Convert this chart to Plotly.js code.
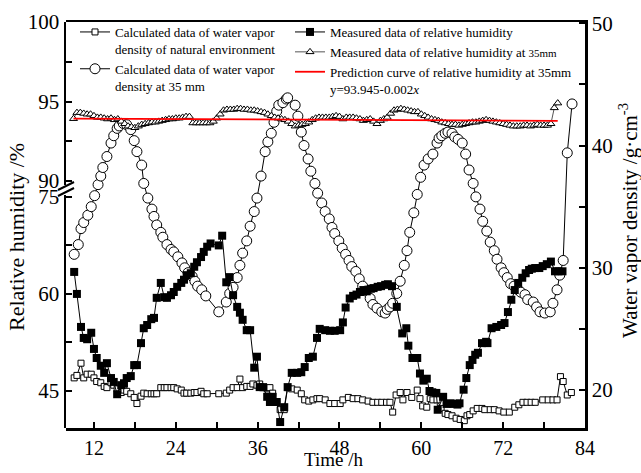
<!DOCTYPE html>
<html><head><meta charset="utf-8">
<script src="https://cdn.plot.ly/plotly-3.0.1.min.js"></script>
<style>html,body{margin:0;padding:0;background:#fff}#chart{width:641px;height:473px}</style>
</head><body><div id="chart"></div>
<script>
// Calculated water vapor density of natural environment (g/cm3)
var tNat=[9.1,9.5,10.1,10.5,11.0,11.6,12.0,12.4,13.0,13.5,13.9,14.5,14.9,15.4,16.0,16.4,16.8,17.4,17.9,18.3,18.9,19.3,19.8,20.4,20.8,21.2,21.8,22.3,22.7,23.3,23.7,24.2,24.8,25.2,25.6,26.2,26.7,27.1,27.7,28.1,28.6,30.3,31.4,31.9,32.4,33.0,33.4,33.8,34.4,34.9,35.3,35.9,36.3,36.8,37.4,37.8,38.2,38.8,39.3,39.9,40.4,41.0,41.8,42.4,42.9,43.5,44.1,44.7,45.1,45.9,46.6,47.3,48.1,48.5,49.3,50.0,50.7,51.4,52.2,52.9,53.6,54.2,54.9,55.4,55.8,56.3,56.9,57.3,57.9,58.6,59.4,59.8,60.2,60.8,61.3,61.7,62.3,62.9,63.5,63.9,64.5,65.1,65.7,66.3,66.7,67.1,67.6,68.2,68.9,69.3,70.1,70.7,71.4,72.1,72.9,73.7,74.3,74.9,75.5,76.1,76.7,77.8,78.6,79.3,79.9,80.4,80.8,81.4,82.0];
var vNat=[21.0,21.2,22.2,21.0,21.3,21.3,21.0,20.7,20.6,20.3,20.2,20.6,20.4,20.1,19.8,20.0,19.9,19.7,19.4,18.9,19.5,19.75,19.7,19.7,19.7,19.7,20.2,20.2,20.2,20.2,20.2,20.1,20.0,19.75,19.75,19.75,19.8,19.8,19.9,19.7,19.7,19.7,19.75,20.0,20.2,20.2,20.9,20.2,20.3,20.3,20.5,20.4,20.5,20.2,20.1,20.2,19.75,19.0,18.4,18.4,20.2,20.1,20.0,19.7,19.2,19.1,19.2,19.3,19.3,19.2,18.9,18.9,18.9,19.2,19.4,19.3,19.3,19.2,19.1,19.0,19.0,19.0,19.0,19.0,18.2,19.6,19.8,19.2,19.8,19.4,20.0,19.3,18.7,18.6,19.3,19.2,19.2,18.5,18.1,18.0,17.9,17.7,17.6,17.5,17.9,18.0,18.3,18.5,18.5,18.4,18.4,18.4,18.3,18.2,18.2,18.6,18.8,19.0,19.0,19.0,19.0,19.2,19.2,19.2,19.2,21.1,20.7,19.6,19.8];

// Calculated water vapor density at 35 mm (g/cm3)
var t35=[9.1,9.7,10.1,10.5,11.1,11.6,12.1,12.6,13.0,13.3,13.9,14.5,14.9,15.4,15.7,16.3,16.8,17.4,17.9,18.3,19.0,19.3,19.9,20.5,20.8,21.2,21.8,22.1,22.7,23.3,23.7,24.3,24.9,25.3,25.8,26.4,26.8,27.2,27.8,28.4,30.3,31.4,31.9,32.4,33.0,33.4,33.8,34.4,34.9,35.5,35.9,36.5,37.1,37.5,38.0,38.4,38.8,39.1,39.7,40.2,40.4,41.5,41.9,42.4,42.8,43.4,43.8,44.4,44.8,45.4,45.9,46.5,46.9,47.3,47.9,48.4,48.9,49.4,49.8,50.4,50.9,51.4,51.9,52.5,52.9,53.5,54.2,54.7,55.0,55.4,55.8,56.4,56.9,57.5,57.9,58.3,58.9,59.4,59.9,60.4,61.0,61.7,62.3,62.6,63.0,63.5,63.9,64.5,64.9,65.4,66.0,66.5,67.0,67.6,68.0,68.6,69.0,69.6,70.1,70.7,71.1,71.7,72.1,72.6,73.1,73.6,74.2,74.6,75.2,75.6,76.4,76.9,77.4,78.1,78.9,79.3,79.9,80.3,80.8,81.4,82.1];
var v35=[31.1,31.9,33.2,33.7,34.3,35.0,35.9,36.8,37.5,38.2,39.1,40.2,40.8,41.4,41.6,41.8,41.7,41.3,40.4,39.5,38.4,36.9,35.7,34.8,34.2,33.5,32.9,32.5,31.9,31.5,31.3,30.9,30.4,30.0,29.6,29.3,28.9,28.5,28.2,27.7,26.4,27.2,27.9,28.4,29.2,30.2,31.2,32.2,33.4,34.6,35.7,37.5,39.5,40.3,41.0,41.9,42.8,43.3,43.5,43.8,43.9,43.3,42.4,41.1,40.0,38.9,37.9,36.9,36.1,35.3,34.6,34.0,33.3,32.8,32.2,31.6,31.1,30.6,30.1,29.7,29.1,28.5,28.1,27.5,27.0,26.7,26.4,26.3,26.6,26.8,27.1,27.9,28.9,30.2,31.4,32.9,34.5,36.0,37.4,38.4,38.9,39.3,40.2,40.6,40.8,41.0,41.1,41.0,40.7,40.5,40.2,39.3,38.0,36.9,35.8,34.8,33.8,33.0,32.1,31.4,30.7,30.0,29.6,29.2,28.7,28.5,28.2,28.0,27.8,27.4,27.2,26.8,26.4,26.3,26.4,27.1,28.2,29.4,30.6,39.4,43.4];

// Measured relative humidity (%)
var tRH=[9.1,9.5,10.1,10.5,11.0,11.6,12.0,12.4,13.0,13.5,13.9,14.5,14.9,15.4,16.0,16.4,16.8,17.4,17.9,18.3,18.9,19.3,19.8,20.4,20.8,21.2,21.8,22.3,22.7,23.3,23.7,24.2,24.8,25.2,25.6,26.2,26.7,27.1,27.7,28.1,28.6,29.1,30.3,30.8,31.4,31.9,32.4,33.0,33.4,33.8,34.4,34.9,35.5,35.9,36.3,36.8,37.4,37.8,38.2,38.8,39.3,39.9,40.4,41.0,41.8,42.4,42.9,43.5,44.1,44.7,45.1,45.9,46.6,47.3,48.1,48.5,48.9,49.5,50.0,50.5,51.0,51.5,52.0,52.6,53.0,53.6,54.1,54.7,55.1,55.7,56.4,57.2,57.8,58.1,58.7,59.4,59.8,60.3,60.8,61.2,61.6,62.2,62.4,63.2,63.7,64.3,64.7,65.3,65.6,66.2,66.6,67.1,67.5,67.9,68.3,68.9,69.5,69.7,70.3,71.0,71.7,72.2,72.7,73.2,73.7,74.2,74.8,75.3,75.8,76.2,76.7,77.3,77.8,78.4,79.0,79.6,80.1,80.7];
var vRH=[63.4,60.0,54.9,53.2,53.0,54.0,51.5,50.1,48.9,47.8,49.3,47.0,46.4,44.5,45.9,46.2,47.0,47.3,49.0,49.0,52.4,54.7,55.2,56.1,56.3,59.4,61.7,59.5,59.4,59.8,60.3,61.1,61.7,62.2,62.9,63.2,64.2,64.9,65.7,66.5,67.3,67.8,67.5,69.0,61.8,62.6,59.8,58.0,57.1,56.0,54.4,54.4,48.6,50.3,45.6,45.6,44.1,43.3,44.1,43.3,40.2,42.5,45.6,47.8,47.8,47.9,48.7,50.1,50.3,53.2,54.6,54.4,54.3,54.3,54.4,55.6,57.9,59.3,59.7,59.9,60.3,60.6,60.4,60.8,60.9,61.1,61.2,61.4,61.5,61.2,58.0,53.9,54.7,52.0,50.1,50.1,47.7,46.6,46.9,45.0,44.8,44.7,42.1,44.1,43.0,43.1,43.0,42.9,43.1,45.2,47.0,49.0,49.8,50.6,50.9,52.4,52.6,52.4,54.7,54.9,55.2,55.5,57.2,59.1,60.6,61.7,62.5,63.2,63.7,63.9,64.0,64.0,64.3,64.6,65.0,63.5,63.5,63.5];

// Measured relative humidity at 35 mm (%)
var tRH35=[9,9.5,10,10.5,11,11.5,12,12.5,13,13.5,14,14.5,15,15.5,16,16.5,17,17.5,18,18.5,19,19.5,20,20.5,21,21.5,22,22.5,23,23.5,24,24.5,25,25.5,26,26.5,27,27.5,28,28.5,29,29.5,30,30.5,31,31.5,32,32.5,33,33.5,34,34.5,35,35.5,36,36.5,37,37.5,38,38.5,39,39.5,40,40.5,41,41.5,42,42.5,43,43.5,44,44.5,45,45.5,46,46.5,47,47.5,48,48.5,49,49.5,50,50.5,51,51.5,52,52.5,53,53.5,54,54.5,55,55.5,56,56.5,57,57.5,58,58.5,59,59.5,60,60.5,61,61.5,62,62.5,63,63.5,64,64.5,65,65.5,66,66.5,67,67.5,68,68.5,69,69.5,70,70.5,71,71.5,72,72.5,73,73.5,74,74.5,75,75.5,76,76.5,77,77.5,78,78.5,79,79.5,80];
var vRH35=[93.92,94.3,94.3,94.25,94.2,94.2,94.1,94.0,94.0,93.95,93.9,93.95,93.85,93.9,93.75,93.6,93.45,93.4,93.35,93.45,93.55,93.6,93.65,93.7,93.7,93.75,93.8,93.85,93.9,93.9,93.95,93.95,94.0,94.05,94.05,93.65,93.65,93.65,93.65,93.65,93.65,93.75,93.95,94.2,94.45,94.5,94.5,94.5,94.55,94.55,94.5,94.5,94.45,94.45,94.4,94.35,94.3,94.2,94.1,94.0,93.95,93.9,93.85,93.75,93.6,93.45,93.5,93.55,93.6,93.7,93.85,93.95,94.0,94.0,94.0,94.0,94.05,94.1,94.05,93.9,94.0,94.0,94.0,93.95,93.9,93.8,93.85,93.9,93.75,93.6,93.8,93.9,94.0,94.25,94.45,94.5,94.55,94.5,94.45,94.4,94.35,94.35,94.2,94.1,94.0,93.9,93.85,93.8,93.7,93.65,93.6,93.55,93.55,93.5,93.55,93.6,93.65,93.7,93.7,93.75,93.8,93.85,93.8,93.75,93.7,93.65,93.6,93.55,93.5,93.45,93.45,93.45,93.5,93.5,93.45,93.5,93.55,93.5,93.5,93.5,93.6,94.6,94.9];

// Prediction curve y = 93.945 - 0.002x (end points)
var tPred=[9.0,80.0];
var vPred=[93.927,93.785];

var FONT='"Liberation Serif","Times New Roman",serif';
function px(p){return (p-66)/519;}
function py(p){return (428-p)/406;}

var traces=[
 {x:tNat,y:vNat,yaxis:'y',mode:'lines+markers',name:'Calculated data of water vapor<br>density of natural environment',legend:'legend',
  line:{color:'#000',width:1},marker:{symbol:'square',size:6,color:'#fff',line:{color:'#000',width:1}}},
 {x:t35,y:v35,yaxis:'y',mode:'lines+markers',name:'Calculated data of water vapor<br>density at 35 mm',legend:'legend',
  line:{color:'#000',width:1},marker:{symbol:'circle',size:10,color:'#fff',line:{color:'#000',width:1}}},
 {x:tRH,y:vRH,yaxis:'y3',mode:'lines+markers',name:'Measured data of relative humidity',legend:'legend2',
  line:{color:'#000',width:1},marker:{symbol:'square',size:8,color:'#000'}},
 {x:tRH35,y:vRH35,yaxis:'y4',mode:'lines+markers',name:'Measured data of relative humidity at <span style="font-size:11px">35mm</span>',legend:'legend2',
  line:{color:'#555',width:1},marker:{symbol:'triangle-up',size:7,color:'#fff',line:{color:'#000',width:1}}},
 {x:tPred,y:vPred,yaxis:'y4',mode:'lines',name:'Prediction curve of relative humidity at 35mm<br>y=93.945-0.002<i>x</i>',legend:'legend2',
  line:{color:'#ff0000',width:1.8}}
];

var axFont={family:FONT,size:21,color:'#000'};
var common={showline:true,linecolor:'#000',linewidth:2.5,ticks:'inside',ticklen:6,tickwidth:2,tickcolor:'#000',showgrid:false,zeroline:false,tickfont:axFont};

var layout={
 width:641,height:473,margin:{l:66,r:56,t:22,b:45},
 paper_bgcolor:'#fff',plot_bgcolor:'rgba(0,0,0,0)',
 font:{family:FONT,color:'#000'},
 showlegend:true,
 xaxis:Object.assign({},common,{range:[7.9,84],domain:[0,1],anchor:'y',dtick:12,tick0:0,mirror:true,
   tickfont:{family:FONT,size:20,color:'#000'},
   minor:{dtick:6,ticks:'inside',ticklen:6,tickwidth:2,tickcolor:'#000'}}),
 yaxis:Object.assign({},common,{range:[16.9,50.1],domain:[0,1],anchor:'x',side:'right',dtick:10,tick0:0,
   minor:{dtick:5,ticks:'inside',ticklen:6,tickwidth:2,tickcolor:'#000'}}),
 yaxis3:Object.assign({},common,{range:[39.28,75.29],domain:[0,py(195)],anchor:'x',side:'left',dtick:15,tick0:0,
   minor:{dtick:7.5,ticks:'inside',ticklen:6,tickwidth:2,tickcolor:'#000'}}),
 yaxis4:Object.assign({},common,{range:[89.75,100],domain:[py(185),1],anchor:'x',side:'left',dtick:5,tick0:0,
   minor:{dtick:2.5,ticks:'inside',ticklen:6,tickwidth:2,tickcolor:'#000'}}),
 legend:{x:px(75),y:py(17),xanchor:'left',yanchor:'top',bgcolor:'rgba(0,0,0,0)',borderwidth:0,
   font:{family:FONT,size:13,color:'#000'},valign:'top',tracegroupgap:0},
 legend2:{x:px(290),y:py(17),xanchor:'left',yanchor:'top',bgcolor:'rgba(0,0,0,0)',borderwidth:0,
   font:{family:FONT,size:13,color:'#000'},valign:'top',tracegroupgap:0},
 shapes:[
   {type:'line',xref:'paper',yref:'paper',x0:px(58),y0:py(190),x1:px(74),y1:py(182),line:{color:'#000',width:2}},
   {type:'line',xref:'paper',yref:'paper',x0:px(58),y0:py(196),x1:px(74),y1:py(188),line:{color:'#000',width:2}}
 ],
 annotations:[
   {text:'Relative humidity /%',xref:'paper',yref:'paper',x:px(17),y:py(237),textangle:-90,showarrow:false,xanchor:'center',yanchor:'middle',font:{family:FONT,size:22,color:'#000'}},
   {text:'Water vapor density /g·cm<sup>-3</sup>',xref:'paper',yref:'paper',x:px(628),y:py(221),textangle:-90,showarrow:false,xanchor:'center',yanchor:'middle',font:{family:FONT,size:21,color:'#000'}},
   {text:'Time /h',xref:'paper',yref:'paper',x:px(333),y:py(460),showarrow:false,xanchor:'center',yanchor:'middle',font:{family:FONT,size:19,color:'#000'}}
 ]
};
Plotly.newPlot('chart',traces,layout,{displayModeBar:false,staticPlot:true});
</script></body></html>
